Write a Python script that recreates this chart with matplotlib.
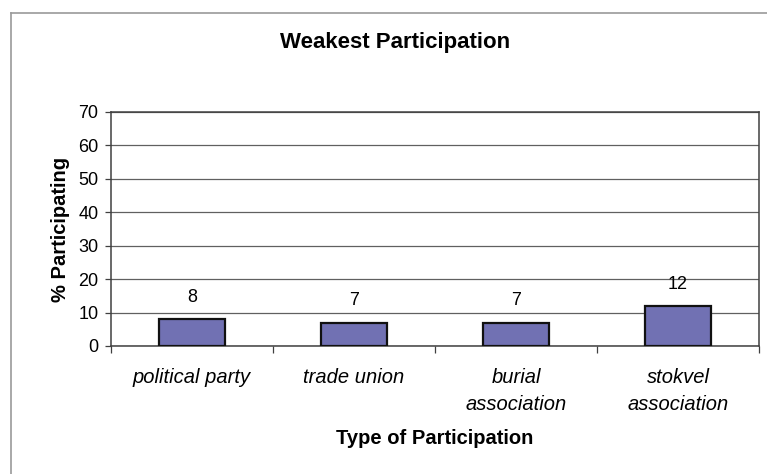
import matplotlib
matplotlib.use("Agg")
import matplotlib.pyplot as plt
import matplotlib.transforms as mtransforms
from matplotlib.lines import Line2D

categories = ["political party", "trade union", "burial\nassociation", "stokvel\nassociation"]
values = [8, 7, 7, 12]
yticks = [0, 10, 20, 30, 40, 50, 60, 70]

plt.rcParams["font.family"] = ["Liberation Sans", "DejaVu Sans"]

W, H = 767, 474
fig = plt.figure(figsize=(W / 100, H / 100), dpi=100)
fig.patch.set_facecolor("white")

# outer chart frame (top and left edges)
fig.add_artist(Line2D([11 / W, 1], [1 - 13 / H, 1 - 13 / H], color="#9a9a9a", lw=1.2))
fig.add_artist(Line2D([11 / W, 11 / W], [0, 1 - 13 / H], color="#9a9a9a", lw=1.2))

ax = fig.add_axes([111 / W, 1 - 346 / H, (759 - 111) / W, (346 - 112) / H])
x = list(range(len(categories)))
bars = ax.bar(x, values, width=0.41, color="#7171b3", edgecolor="#111111", linewidth=1.6, zorder=3)

ax.set_xlim(-0.5, len(categories) - 0.5)
ax.set_ylim(0, 70)
ax.set_yticks(yticks)
ax.set_yticklabels([str(t) for t in yticks], fontsize=13)
ax.yaxis.grid(True, color="#606060", lw=0.9, zorder=0)
ax.tick_params(axis="y", direction="out", length=4, width=0.9, color="#404040", pad=5)

# category separators as x ticks
ax.set_xticks([i + 0.5 for i in range(-1, len(categories))])
ax.set_xticklabels([])
ax.tick_params(axis="x", direction="out", length=5, width=0.9, color="#404040")

# category labels: x in data units, y in figure units
label_tf = mtransforms.blended_transform_factory(ax.transData, fig.transFigure)
for i, c in enumerate(categories):
    for k, line in enumerate(c.split("\n")):
        ax.text(i, 1 - (383 + 27 * k) / H, line, ha="center", va="baseline",
                fontsize=14.5, style="italic", transform=label_tf, clip_on=False)

for s in ax.spines.values():
    s.set_color("#404040")
    s.set_linewidth(1.1)

for b, v in zip(bars, values):
    ax.text(b.get_x() + b.get_width() / 2, v + 4, str(v), ha="center", va="bottom", fontsize=13)

ax.set_ylabel("% Participating", fontsize=14.5, fontweight="bold", labelpad=6)
fig.text(0.5 * (111 + 759) / W, 1 - 444 / H, "Type of Participation", ha="center", va="baseline",
         fontsize=14.5, fontweight="bold")
fig.text(395 / W, 1 - 48 / H, "Weakest Participation", ha="center", va="baseline",
         fontsize=16, fontweight="bold")

fig.savefig("out.png", dpi=100, facecolor="white")
